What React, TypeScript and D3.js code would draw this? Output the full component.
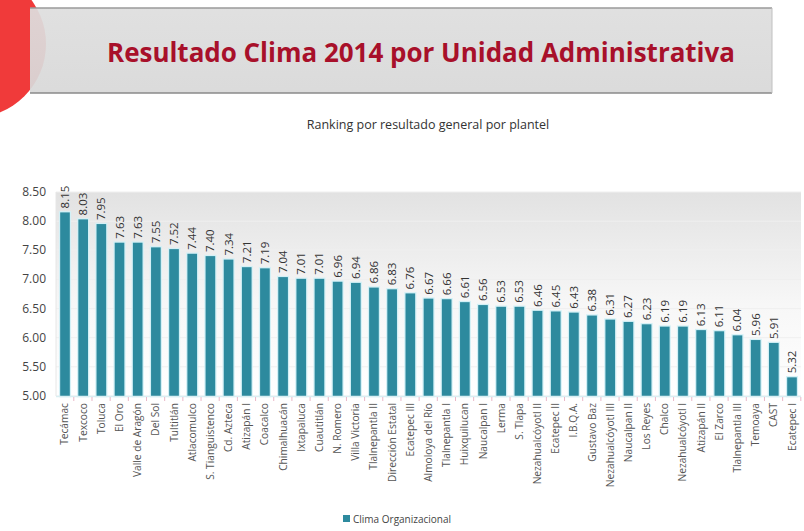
import React from "react";
import * as d3 from "d3";

const categories = [
  "Tecámac", "Texcoco", "Toluca", "El Oro", "Valle de Aragón", "Del Sol", "Tultitlán",
  "Atlacomulco", "S. Tianguistenco", "Cd. Azteca", "Atizapán I", "Coacalco", "Chimalhuacán",
  "Ixtapaluca", "Cuautitlán", "N. Romero", "Villa Victoria", "Tlalnepantla II",
  "Dirección Estatal", "Ecatepec III", "Almoloya del Río", "Tlalnepantla I", "Huixquilucan",
  "Naucalpan I", "Lerma", "S. Tlapa", "Nezahualcóyotl II", "Ecatepec II", "I.B.Q.A.",
  "Gustavo Baz", "Nezahualcóyotl III", "Naucalpan II", "Los Reyes", "Chalco",
  "Nezahualcóyotl I", "Atizapán II", "El Zarco", "Tlalnepantla III", "Temoaya", "CAST",
  "Ecatepec I",
];

const values = [
  8.15, 8.03, 7.95, 7.63, 7.63, 7.55, 7.52, 7.44, 7.4, 7.34, 7.21, 7.19, 7.04, 7.01, 7.01,
  6.96, 6.94, 6.86, 6.83, 6.76, 6.67, 6.66, 6.61, 6.56, 6.53, 6.53, 6.46, 6.45, 6.43, 6.38,
  6.31, 6.27, 6.23, 6.19, 6.19, 6.13, 6.11, 6.04, 5.96, 5.91, 5.32,
];

const yTicks = [5.0, 5.5, 6.0, 6.5, 7.0, 7.5, 8.0, 8.5];

const seriesName = "Clima Organizacional";
const title = "Resultado Clima 2014 por Unidad Administrativa";
const subtitle = "Ranking por resultado general por plantel";

export default function App() {
  const W = 804;
  const H = 531;
  const font = "'Open Sans', 'DejaVu Sans', sans-serif";
  const barColor = "#2d8a9e";

  const x = d3.scaleBand<string>().domain(categories).range([56, 801]).paddingInner(0.47).paddingOuter(0.23);
  const y = d3.scaleLinear().domain([5, 8.5]).range([396, 192]);

  return (
    <svg
      width={W}
      height={H}
      viewBox={`0 0 ${W} ${H}`}
      style={{ position: "absolute", left: 0, top: 0, background: "#fff" }}
    >
      <defs>
        <linearGradient id="plotbg" x1="0" y1="0" x2="0" y2="1">
          <stop offset="0%" stopColor="#e2e2e2" />
          <stop offset="55%" stopColor="#f7f7f7" />
          <stop offset="100%" stopColor="#ffffff" />
        </linearGradient>
        <linearGradient id="titlebg" x1="0" y1="0" x2="0" y2="1">
          <stop offset="0%" stopColor="#dedede" />
          <stop offset="100%" stopColor="#d8d8d8" />
        </linearGradient>
      </defs>

      {/* Header */}
      <circle cx={-28} cy={44} r={74} fill="#f03a3a" />
      <rect x={30} y={8} width={742} height={85} fill="url(#titlebg)" opacity={0.93} />
      <line x1={30} x2={772} y1={8} y2={8} stroke="#9a9a9a" strokeWidth={1.5} />
      <line x1={30} x2={772} y1={93} y2={93} stroke="#8a8a8a" strokeWidth={1.5} />
      <line x1={772} x2={772} y1={8} y2={93} stroke="#c0c0c0" strokeWidth={1} />
      <text
        x={421}
        y={62}
        textAnchor="middle"
        fontFamily={font}
        fontWeight={700}
        fontSize={26}
        fill="#a8102a"
        textLength={628}
        lengthAdjust="spacingAndGlyphs"
      >
        {title}
      </text>
      <text x={428} y={129} textAnchor="middle" fontFamily={font} fontSize={12.5} fill="#333">
        {subtitle}
      </text>

      {/* Plot background */}
      <rect x={56} y={y(8.5)} width={745} height={y(5) - y(8.5)} fill="url(#plotbg)" />
      {yTicks.map((t) => (
        <line key={"g" + t} x1={56} x2={801} y1={y(t)} y2={y(t)} stroke="#efefef" strokeWidth={1} />
      ))}
      <line x1={56} x2={56} y1={y(8.5)} y2={y(5)} stroke="#e6e6e6" />

      {/* Y axis labels */}
      {yTicks.map((t) => (
        <text
          key={"y" + t}
          x={46}
          y={y(t) + 4}
          textAnchor="end"
          fontFamily={font}
          fontSize={12}
          fill="#444"
        >
          {t.toFixed(2)}
        </text>
      ))}

      {/* Bars */}
      {categories.map((c, i) => {
        const bx = x(c)!;
        const bw = x.bandwidth();
        const top = y(values[i]);
        return (
          <g key={c}>
            <rect
              x={bx}
              y={top}
              width={bw}
              height={y(5) - top}
              fill={barColor}
              stroke="#d2f0f6"
              strokeWidth={2.5}
              paintOrder="stroke"
            />
            <text
              transform={`translate(${bx + bw / 2 + 4},${top - 4}) rotate(-90)`}
              fontFamily={font}
              fontSize={11.5}
              fill="#333"
            >
              {values[i].toFixed(2)}
            </text>
          </g>
        );
      })}

      {/* X axis */}
      <line x1={56} x2={801} y1={396.5} y2={396.5} stroke="#d9eef2" strokeWidth={1.5} />
      {categories.map((c, i) => {
        const tx = 56 + (i + 1) * x.step() - x.step() * 0.02;
        return <line key={"t" + c} x1={tx} x2={tx} y1={397} y2={401} stroke="#e9b8c8" strokeWidth={1} />;
      })}
      {categories.map((c) => {
        const cx = x(c)! + x.bandwidth() / 2;
        return (
          <text
            key={"l" + c}
            transform={`translate(${cx + 3.5},${403}) rotate(-90)`}
            textAnchor="end"
            fontFamily={font}
            fontSize={10.2}
            fill="#555"
          >
            {c}
          </text>
        );
      })}

      {/* Legend */}
      <rect x={343} y={515} width={7} height={7} fill={barColor} />
      <text x={353} y={522.5} fontFamily={font} fontSize={10} fill="#444">
        {seriesName}
      </text>
    </svg>
  );
}
